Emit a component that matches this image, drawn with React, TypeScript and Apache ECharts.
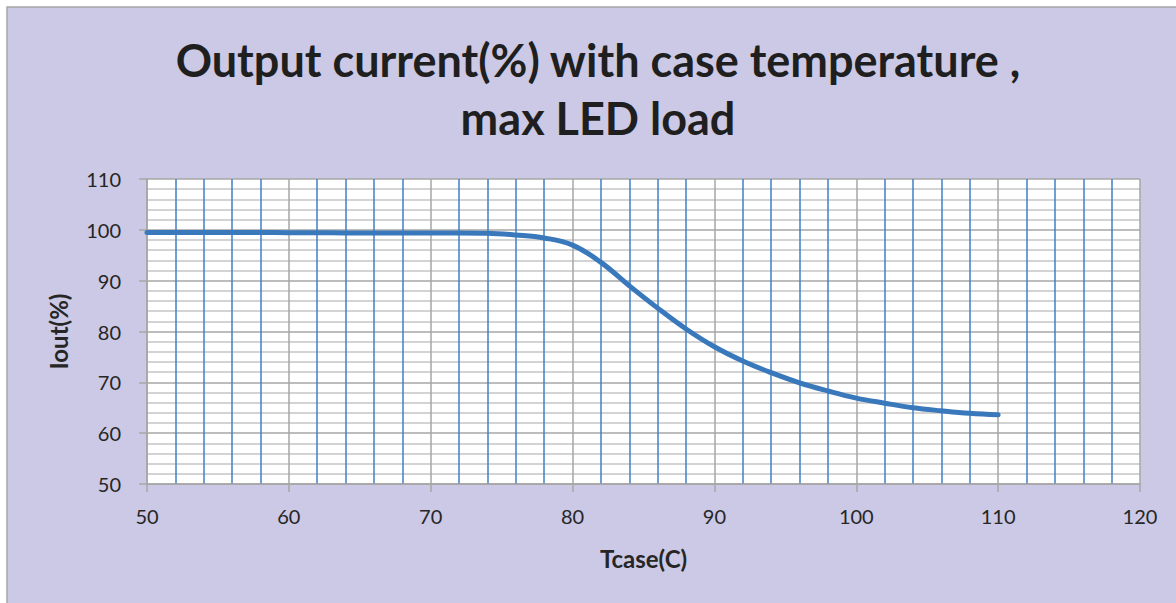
import React, { useEffect, useRef } from "react";
import * as echarts from "echarts";

const titleLines = ["Output current(%) with case temperature ,", "max LED load"];
const xName = "Tcase(C)";
const yName = "Iout(%)";
const tcase = [50, 52, 54, 56, 58, 60, 62, 64, 66, 68, 70, 72, 74, 76, 78, 80, 82, 84, 86, 88, 90, 92, 94, 96, 98, 100, 102, 104, 106, 108, 110];
const iout = [99.5, 99.5, 99.5, 99.5, 99.5, 99.45, 99.45, 99.4, 99.4, 99.4, 99.4, 99.4, 99.35, 99.0, 98.4, 97.0, 93.6, 89.0, 84.6, 80.5, 77.0, 74.2, 71.9, 69.9, 68.3, 66.9, 65.9, 65.0, 64.4, 63.9, 63.6];

const FONT = "Lato";

export default function App() {
  const ref = useRef<HTMLDivElement>(null);
  useEffect(() => {
    if (!ref.current) return;
    const chart = echarts.init(ref.current, null, { renderer: "svg" });
    chart.setOption({
      animation: false,
      backgroundColor: "#ffffff",
      graphic: [
        {
          type: "rect",
          z: -10,
          shape: { x: 7, y: 7, width: 1200, height: 700 },
          style: { fill: "#cbc9e5", stroke: "#a6a6a6", lineWidth: 1.5 },
          silent: true,
        },
        {
          type: "text",
          x: 598,
          y: 60,
          style: {
            text: titleLines[0],
            font: `bold 45px ${FONT}`,
            fill: "#1f1f1f",
            align: "center",
            verticalAlign: "middle",
          },
        },
        {
          type: "text",
          x: 598,
          y: 118,
          style: {
            text: titleLines[1],
            font: `bold 45px ${FONT}`,
            fill: "#1f1f1f",
            align: "center",
            verticalAlign: "middle",
          },
        },
      ],
      grid: { left: 147, right: 36, top: 179, bottom: 119, backgroundColor: "#ffffff", show: true, borderWidth: 0 },
      xAxis: {
        type: "value",
        min: 50,
        max: 120,
        interval: 10,
        name: xName,
        nameLocation: "middle",
        nameGap: 62,
        nameTextStyle: { fontFamily: FONT, fontWeight: "bold", fontSize: 24, color: "#262626" },
        axisLine: { show: true, lineStyle: { color: "#a6a6a6", width: 1.5 } },
        axisTick: { show: true, length: 8, lineStyle: { color: "#a6a6a6", width: 1.5 } },
        axisLabel: { margin: 22, fontFamily: FONT, fontSize: 20, color: "#262626" },
        splitLine: { show: true, lineStyle: { color: "#a6a6a6", width: 1.5 } },
        minorTick: { show: false, splitNumber: 5 },
        minorSplitLine: { show: true, lineStyle: { color: "#3f7fc4", width: 1.5 } },
      },
      yAxis: {
        type: "value",
        min: 50,
        max: 110,
        interval: 10,
        name: yName,
        nameLocation: "middle",
        nameGap: 77,
        nameTextStyle: { fontFamily: FONT, fontWeight: "bold", fontSize: 24, color: "#262626" },
        axisLine: { show: true, lineStyle: { color: "#a6a6a6", width: 1.5 } },
        axisTick: { show: true, length: 8, lineStyle: { color: "#a6a6a6", width: 1.5 } },
        axisLabel: { margin: 26, fontFamily: FONT, fontSize: 20, color: "#262626" },
        splitLine: { show: true, lineStyle: { color: "#a6a6a6", width: 1.5 } },
        minorTick: { show: false, splitNumber: 5 },
        minorSplitLine: { show: true, lineStyle: { color: "#c4c4c4", width: 1.5 } },
      },
      series: [
        {
          type: "line",
          data: tcase.map((t, i) => [t, iout[i]]),
          smooth: 0.4,
          symbol: "none",
          lineStyle: { color: "#3a78bc", width: 5, cap: "round" },
        },
      ],
    });
    return () => chart.dispose();
  }, []);
  return <div ref={ref} style={{ position: "absolute", left: 0, top: 0, width: 1176, height: 603 }} />;
}
